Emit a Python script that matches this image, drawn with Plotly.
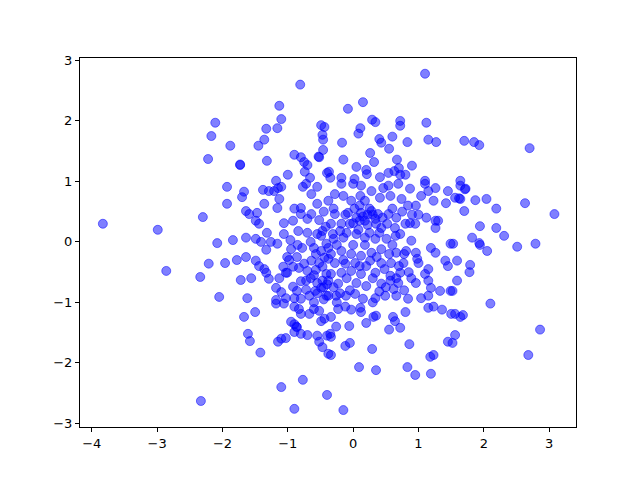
import plotly.graph_objects as go

pts_left = [(-3.83,0.30),(-2.99,0.20),(-2.86,-0.48),(-2.34,-0.58),(-2.33,-2.63),(-2.30,0.41),(-2.21,-0.36),(-2.22,1.37),(-2.17,1.75),(-2.11,1.97),(-2.08,-0.02),(-2.05,-0.91),(-1.93,0.91),(-1.93,0.63),(-1.96,-0.35),(-1.88,1.59),(-1.84,0.03),(-1.78,-0.30),(-1.73,1.27),(-1.73,1.28),(-1.67,0.83),(-1.70,0.74),(-1.64,0.51),(-1.59,0.46),(-1.64,-0.25),(-1.64,0.07),(-1.62,-0.93),(-1.72,-0.63),(-1.56,-0.60),(-1.61,-1.52),(-1.58,-1.64),(-1.67,-1.24),(-1.50,-1.16)]

pts_upper = [(-1.45,1.59),(-1.36,1.69),(-1.33,1.87),(-1.32,1.34),(-1.16,1.88),(-1.10,2.03),(-1.13,2.25),(-0.81,2.60),(-1.18,1.01),(-1.00,1.11),(-0.90,1.44),(-0.80,1.40),(-0.75,1.32),(-0.70,1.27),(-0.74,1.16),(-0.66,1.06),(-0.52,1.40),(-0.53,1.41),(-0.49,1.93),(-0.44,1.90),(-0.47,1.77),(-0.46,1.69),(-0.46,1.52),(-0.40,1.14),(1.10,2.78),(0.15,2.31),(-0.08,2.20),(0.11,1.88),(0.08,1.79),(0.29,2.02),(0.34,1.98),(0.72,2.00),(0.72,1.92),(1.12,1.97),(-0.17,1.64),(0.40,1.70),(0.43,1.64),(0.55,1.54),(0.60,1.74),(0.83,1.65),(1.15,1.69),(1.27,1.65),(0.26,1.47),(0.32,1.32),(-0.15,1.36),(0.67,1.36),(0.70,1.22),(0.90,1.26),(0.05,1.24),(0.20,1.19),(0.21,1.12),(0.54,1.14),(0.63,1.17),(0.80,1.11),(0.72,1.11),(-0.37,1.16),(0.41,1.07),(1.10,1.01),(-0.18,1.06),(0.02,1.04),(-0.35,1.06),(1.70,1.67),(1.85,1.65),(1.93,1.60),(2.70,1.55),(1.64,1.01)]

pts_midleft = [(-1.38,0.86),(-1.29,0.84),(-1.21,0.84),(-1.15,0.89),(-1.10,0.91),(-1.13,0.71),(-1.16,0.56),(-1.36,0.63),(-1.47,0.48),(-1.49,0.35),(-1.44,0.30),(-1.06,0.31),(-0.92,0.35),(-0.90,0.55),(-0.80,0.56),(-0.80,0.46),(-0.77,0.91),(-0.72,0.96),(-0.64,0.79),(-0.55,0.91),(-0.55,0.63),(-0.64,0.46),(-0.70,0.38),(-0.52,0.36),(-0.84,0.18),(-0.70,0.15),(-0.55,0.13),(-0.47,0.18),(-1.49,0.05),(-1.41,0.00),(-1.32,0.15),(-1.26,0.00),(-1.33,-0.13),(-1.16,-0.03),(-1.06,0.13),(-0.96,0.03),(-0.95,-0.12),(-0.78,-0.10),(-1.01,-0.25),(-0.98,-0.30),(-0.86,-0.25),(-0.92,-0.41),(-1.07,-0.41),(-1.01,-0.51),(-0.83,-0.43),(-0.75,-0.36),(-0.70,-0.48),(-0.72,-0.64),(-0.64,-0.31),(-0.57,-0.20),(-0.60,-0.10),(-0.49,-0.15),(-0.47,-0.41),(-0.47,-0.64),(-0.57,-0.46),(-1.49,-0.31),(-1.44,-0.40),(-1.36,-0.45),(-1.33,-0.51),(-1.29,-0.61),(-1.13,-0.60),(-1.03,-0.51),(-1.18,-0.76),(-1.10,-0.83),(-0.92,-0.74),(-0.86,-0.81),(-0.72,-0.79),(-1.03,-0.93),(-1.18,-0.96),(-0.90,-0.93),(-0.80,-0.94),(-0.67,-0.89),(-0.58,-0.81),(-0.49,0.10),(-0.41,-0.03),(-0.44,-0.26),(-0.52,-0.35),(-0.41,-0.53),(-0.49,-0.76),(-0.41,-0.89)]

pts_center = [(-0.18,0.96),(-0.28,0.79),(-0.15,0.76),(0.00,0.96),(0.12,0.93),(0.28,0.84),(0.46,0.89),(0.54,0.93),(0.69,0.96),(0.87,0.88),(1.10,0.96),(1.15,0.84),(1.26,0.89),(1.23,0.68),(1.42,0.64),(1.45,0.84),(-0.38,0.68),(-0.03,0.68),(0.11,0.76),(0.18,0.68),(0.41,0.73),(0.57,0.76),(0.74,0.71),(0.84,0.60),(0.96,0.60),(1.04,0.76),(0.28,0.51),(0.38,0.46),(0.12,0.48),(-0.08,0.48),(-0.28,0.46),(0.54,0.46),(0.66,0.40),(0.87,0.31),(0.95,0.30),(1.12,0.40),(1.26,0.35),(1.30,0.35),(1.26,0.23),(-0.34,0.30),(-0.18,0.30),(0.00,0.31),(0.18,0.35),(0.34,0.38),(0.43,0.23),(0.64,0.23),(0.80,0.30),(-0.15,0.07),(0.05,0.13),(0.18,0.07),(0.34,0.05),(0.51,0.05),(0.72,0.13),(0.89,0.02),(1.49,-0.03),(-0.31,0.13),(1.19,-0.10),(1.26,-0.18),(0.96,-0.18),(0.98,-0.28),(0.81,-0.15),(0.66,-0.18),(0.43,-0.12),(0.28,-0.18),(0.12,-0.23),(-0.03,-0.20),(-0.18,-0.15),(-0.34,-0.20),(-0.28,-0.35),(-0.12,-0.36),(0.03,-0.35),(0.26,-0.31),(0.43,-0.35),(0.58,-0.35),(0.77,-0.35),(1.41,-0.31),(1.45,-0.40),(1.15,-0.45),(1.10,-0.53),(-0.34,-0.53),(-0.18,-0.51),(-0.03,-0.48),(0.12,-0.53),(0.34,-0.51),(0.57,-0.56),(0.66,-0.60),(0.72,-0.51),(0.89,-0.60),(-0.38,-0.64),(-0.23,-0.69),(0.05,-0.68),(0.20,-0.73),(0.43,-0.69),(0.57,-0.64),(0.69,-0.68),(0.96,-0.68),(1.15,-0.64),(1.19,-0.76),(1.33,-0.81),(1.49,-0.81),(-0.26,-0.89),(-0.11,-0.89),(0.03,-0.86),(0.15,-0.94),(0.34,-0.93),(0.49,-0.89),(0.66,-0.89),(0.84,-0.94),(1.04,-0.93),(1.15,-0.89),(-0.38,-0.89),(-0.38,-0.28),(-0.38,-0.10)]

pts_dense = [(0.05,0.40),(0.10,0.35),(0.15,0.42),(-0.05,0.30),(0.22,0.28),(0.30,0.45),(0.02,0.55),(-0.12,0.45),(0.25,0.55),(0.08,0.20),(-0.20,0.18),(-0.30,0.05),(-0.42,0.25),(-0.25,-0.05),(0.18,-0.05),(0.36,-0.25),(0.55,-0.20),(0.70,-0.40),(0.50,-0.75),(0.78,-0.80),(0.85,-0.50),(0.65,0.10),(-0.10,-0.60),(-0.45,-0.75),(-0.60,-0.55),(-0.25,-1.00),(0.30,-1.00),(-0.05,-0.80),(0.20,-0.40),(1.00,0.45),(-0.60,-1.00),(-0.45,-0.95),(-0.40,-0.70),(-0.55,-0.68),
(0.10,0.60),(0.22,0.45),(0.35,0.30),(0.45,0.40),(0.52,0.30),(0.60,0.55),(0.40,0.15),(0.25,0.15),(-0.10,0.15),(0.00,-0.05),(0.60,-0.05),(0.48,-0.45),(0.30,-0.60),(0.10,-0.40),(-0.15,-0.30),(-0.30,-0.75),(-0.20,-0.85),(0.40,-0.82),(0.62,-0.78),(-0.55,-0.85),(-0.65,-0.60),(-0.80,-0.65),(-0.85,-0.05),(-0.65,0.00),(-0.30,0.55),(-0.45,0.50),(0.75,0.50),(0.90,0.45),(0.78,-0.20),(1.00,-0.35)]

pts_right = [(1.64,0.93),(1.72,0.88),(1.71,0.87),(1.56,0.73),(1.64,0.71),(1.62,0.72),(1.87,0.69),(2.04,0.71),(1.70,0.51),(2.19,0.55),(2.63,0.64),(3.08,0.46),(1.94,0.26),(2.19,0.23),(2.31,0.10),(1.82,0.07),(1.93,-0.02),(1.94,-0.05),(2.05,-0.15),(2.51,-0.08),(2.79,-0.03),(1.53,-0.03),(1.59,-0.31),(1.79,-0.38),(1.78,-0.50),(1.59,-0.64),(1.52,-0.81),(2.10,-1.02)]

pts_lower = [(-1.42,-1.83),(-1.15,-1.65),(-1.10,-1.60),(-1.03,-1.59),(-1.10,-2.40),(-0.77,-2.28),(-0.90,-2.76),(-0.40,-2.53),(-1.18,-1.02),(-1.06,-1.02),(-0.90,-1.07),(-0.83,-1.11),(-0.80,-1.19),(-0.67,-1.19),(-0.60,-1.11),(-0.52,-1.14),(-0.44,-1.27),(-0.49,-1.31),(-0.95,-1.32),(-0.90,-1.36),(-0.87,-1.40),(-0.86,-1.41),(-0.90,-1.49),(-0.80,-1.52),(-0.70,-1.54),(-0.55,-1.55),(-0.52,-1.65),(-0.47,-1.74),(-0.40,-1.55),(-0.38,-1.85),(-0.34,-1.24),(-0.35,-1.52),(-0.34,-1.57),(-0.26,-1.40),(-0.23,-1.11),(-0.12,-1.07),(-0.03,-1.12),(0.11,-1.09),(0.12,-1.16),(-0.06,-1.39),(0.20,-1.34),(0.31,-1.24),(0.35,-1.22),(0.61,-1.24),(0.64,-1.31),(0.72,-1.42),(0.55,-1.45),(0.80,-1.16),(1.15,-1.09),(1.23,-1.07),(1.36,-1.12),(1.50,-1.19),(-0.34,-1.87),(-0.12,-1.72),(-0.05,-1.67),(0.29,-1.77),(0.86,-1.69),(0.09,-2.07),(0.35,-2.12),(0.83,-2.07),(0.95,-2.20),(1.18,-1.90),(1.23,-1.87),(1.19,-2.18),(-0.15,-2.78),(1.45,-1.65),(1.56,-1.19),(1.64,-1.24),(1.68,-1.21),(1.56,-1.54),(1.52,-1.67),(2.86,-1.45),(2.68,-1.87)]

x_ticks = [-4, -3, -2, -1, 0, 1, 2, 3]
y_ticks = [-3, -2, -1, 0, 1, 2, 3]

all_pts = pts_left + pts_upper + pts_midleft + pts_center + pts_dense + pts_right + pts_lower
xs = [p[0] for p in all_pts]
ys = [p[1] for p in all_pts]

fig = go.Figure(go.Scatter(
    x=xs, y=ys, mode="markers",
    marker=dict(size=9, color="rgba(0,0,255,0.5)",
                line=dict(width=1, color="rgba(0,0,255,0.5)")),
    hoverinfo="skip", showlegend=False,
))

axis_common = dict(showgrid=False, zeroline=False, showline=True, mirror=True,
                   linecolor="black", linewidth=1, ticks="outside", ticklen=4,
                   tickcolor="black", tickfont=dict(family="DejaVu Sans", size=13, color="black"))

fig.update_layout(
    width=632, height=472,
    margin=dict(l=72, r=64, t=50, b=53, pad=0),
    paper_bgcolor="white", plot_bgcolor="white",
    xaxis=dict(range=[-4.18, 3.41], tickvals=x_ticks, **axis_common),
    yaxis=dict(range=[-3.06, 3.04], tickvals=y_ticks, **axis_common),
)

fig.write_html("out.html")
